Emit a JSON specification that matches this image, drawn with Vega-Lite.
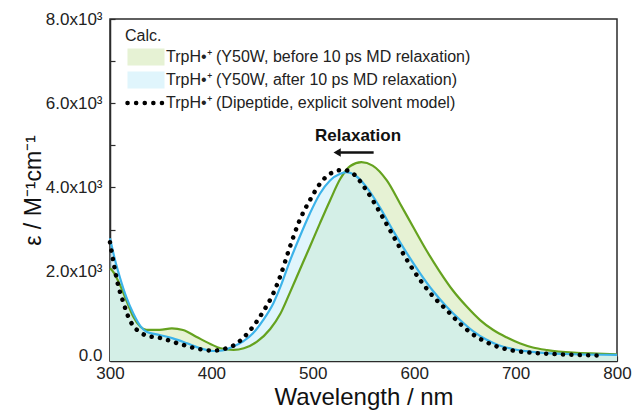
{
  "$schema": "https://vega.github.io/schema/vega-lite/v6.json",
  "width": 507,
  "height": 342,
  "autosize": {"type": "none"},
  "padding": {"left": 110, "top": 19, "right": 16, "bottom": 50},
  "background": "white",
  "config": {
    "font": "Liberation Sans",
    "view": {"stroke": "#2b2b2b", "strokeWidth": 1.5},
    "axis": {"grid": false, "domainColor": "#2b2b2b", "domainWidth": 1.5, "tickColor": "#2b2b2b", "tickWidth": 1.2, "labelColor": "#222222", "titleColor": "#111111", "labelFont": "Liberation Sans", "titleFont": "Liberation Sans", "titleFontWeight": "normal"}
  },
  "datasets": {
    "curves": [
      {"series": "before", "wl": 300, "eps": 2080},
      {"series": "before", "wl": 302, "eps": 2035},
      {"series": "before", "wl": 310, "eps": 1680},
      {"series": "before", "wl": 316, "eps": 1325},
      {"series": "before", "wl": 323, "eps": 930},
      {"series": "before", "wl": 330, "eps": 693},
      {"series": "before", "wl": 336, "eps": 620},
      {"series": "before", "wl": 349, "eps": 620},
      {"series": "before", "wl": 361, "eps": 655},
      {"series": "before", "wl": 372, "eps": 615},
      {"series": "before", "wl": 385, "eps": 457},
      {"series": "before", "wl": 399, "eps": 284},
      {"series": "before", "wl": 409, "eps": 182},
      {"series": "before", "wl": 422, "eps": 142},
      {"series": "before", "wl": 432, "eps": 182},
      {"series": "before", "wl": 445, "eps": 339},
      {"series": "before", "wl": 458, "eps": 640},
      {"series": "before", "wl": 468, "eps": 1000},
      {"series": "before", "wl": 477, "eps": 1480},
      {"series": "before", "wl": 487, "eps": 2035},
      {"series": "before", "wl": 497, "eps": 2587},
      {"series": "before", "wl": 507, "eps": 3148},
      {"series": "before", "wl": 517, "eps": 3692},
      {"series": "before", "wl": 527, "eps": 4200},
      {"series": "before", "wl": 537, "eps": 4510},
      {"series": "before", "wl": 548, "eps": 4600},
      {"series": "before", "wl": 559, "eps": 4520},
      {"series": "before", "wl": 573, "eps": 4166},
      {"series": "before", "wl": 586, "eps": 3621},
      {"series": "before", "wl": 599, "eps": 3060},
      {"series": "before", "wl": 612, "eps": 2509},
      {"series": "before", "wl": 625, "eps": 2010},
      {"series": "before", "wl": 638, "eps": 1560},
      {"series": "before", "wl": 652, "eps": 1167},
      {"series": "before", "wl": 665, "eps": 852},
      {"series": "before", "wl": 678, "eps": 615},
      {"series": "before", "wl": 691, "eps": 442},
      {"series": "before", "wl": 704, "eps": 300},
      {"series": "before", "wl": 717, "eps": 200},
      {"series": "before", "wl": 731, "eps": 140},
      {"series": "before", "wl": 757, "eps": 78},
      {"series": "before", "wl": 780, "eps": 55},
      {"series": "before", "wl": 800, "eps": 40},
      {"series": "after", "wl": 300, "eps": 2793},
      {"series": "after", "wl": 305, "eps": 2272},
      {"series": "after", "wl": 310, "eps": 1846},
      {"series": "after", "wl": 316, "eps": 1404},
      {"series": "after", "wl": 323, "eps": 1010},
      {"series": "after", "wl": 330, "eps": 710},
      {"series": "after", "wl": 336, "eps": 575},
      {"series": "after", "wl": 349, "eps": 497},
      {"series": "after", "wl": 362, "eps": 418},
      {"series": "after", "wl": 376, "eps": 300},
      {"series": "after", "wl": 389, "eps": 182},
      {"series": "after", "wl": 402, "eps": 118},
      {"series": "after", "wl": 411, "eps": 130},
      {"series": "after", "wl": 421, "eps": 220},
      {"series": "after", "wl": 431, "eps": 339},
      {"series": "after", "wl": 441, "eps": 537},
      {"series": "after", "wl": 451, "eps": 852},
      {"series": "after", "wl": 461, "eps": 1247},
      {"series": "after", "wl": 468, "eps": 1640},
      {"series": "after", "wl": 477, "eps": 2230},
      {"series": "after", "wl": 487, "eps": 2824},
      {"series": "after", "wl": 497, "eps": 3377},
      {"series": "after", "wl": 507, "eps": 3851},
      {"series": "after", "wl": 517, "eps": 4166},
      {"series": "after", "wl": 527, "eps": 4324},
      {"series": "after", "wl": 533, "eps": 4363},
      {"series": "after", "wl": 542, "eps": 4284},
      {"series": "after", "wl": 553, "eps": 4008},
      {"series": "after", "wl": 566, "eps": 3534},
      {"series": "after", "wl": 579, "eps": 2982},
      {"series": "after", "wl": 593, "eps": 2430},
      {"series": "after", "wl": 606, "eps": 1957},
      {"series": "after", "wl": 619, "eps": 1530},
      {"series": "after", "wl": 632, "eps": 1170},
      {"series": "after", "wl": 645, "eps": 860},
      {"series": "after", "wl": 658, "eps": 590},
      {"series": "after", "wl": 671, "eps": 390},
      {"series": "after", "wl": 684, "eps": 250},
      {"series": "after", "wl": 697, "eps": 165},
      {"series": "after", "wl": 710, "eps": 115},
      {"series": "after", "wl": 724, "eps": 80},
      {"series": "after", "wl": 757, "eps": 40},
      {"series": "after", "wl": 800, "eps": 25},
      {"series": "dip", "wl": 300, "eps": 2700},
      {"series": "dip", "wl": 304, "eps": 2150},
      {"series": "dip", "wl": 308, "eps": 1680},
      {"series": "dip", "wl": 313, "eps": 1285},
      {"series": "dip", "wl": 318, "eps": 930},
      {"series": "dip", "wl": 323, "eps": 710},
      {"series": "dip", "wl": 330, "eps": 560},
      {"series": "dip", "wl": 336, "eps": 480},
      {"series": "dip", "wl": 349, "eps": 430},
      {"series": "dip", "wl": 369, "eps": 284},
      {"series": "dip", "wl": 389, "eps": 158},
      {"series": "dip", "wl": 402, "eps": 126},
      {"series": "dip", "wl": 411, "eps": 158},
      {"series": "dip", "wl": 421, "eps": 237},
      {"series": "dip", "wl": 431, "eps": 418},
      {"series": "dip", "wl": 441, "eps": 694},
      {"series": "dip", "wl": 451, "eps": 1050},
      {"series": "dip", "wl": 461, "eps": 1483},
      {"series": "dip", "wl": 468, "eps": 1900},
      {"series": "dip", "wl": 477, "eps": 2560},
      {"series": "dip", "wl": 487, "eps": 3219},
      {"series": "dip", "wl": 497, "eps": 3692},
      {"series": "dip", "wl": 507, "eps": 4087},
      {"series": "dip", "wl": 517, "eps": 4324},
      {"series": "dip", "wl": 530, "eps": 4418},
      {"series": "dip", "wl": 540, "eps": 4324},
      {"series": "dip", "wl": 553, "eps": 3929},
      {"series": "dip", "wl": 566, "eps": 3416},
      {"series": "dip", "wl": 579, "eps": 2864},
      {"series": "dip", "wl": 593, "eps": 2272},
      {"series": "dip", "wl": 606, "eps": 1799},
      {"series": "dip", "wl": 619, "eps": 1404},
      {"series": "dip", "wl": 632, "eps": 1090},
      {"series": "dip", "wl": 645, "eps": 770},
      {"series": "dip", "wl": 658, "eps": 510},
      {"series": "dip", "wl": 671, "eps": 330},
      {"series": "dip", "wl": 684, "eps": 205},
      {"series": "dip", "wl": 697, "eps": 130},
      {"series": "dip", "wl": 711, "eps": 87},
      {"series": "dip", "wl": 743, "eps": 40},
      {"series": "dip", "wl": 780, "eps": 10}
    ],
    "note": [{"wl": 544.6, "eps": 5231, "text": "Relaxation"}],
    "arrow": [{"wl": 527, "wl2": 560, "eps": 4830, "head": 524}]
  },
  "layer": [
    {
      "data": {"name": "curves"},
      "transform": [{"filter": "datum.series === 'before'"}],
      "mark": {"type": "area", "interpolate": "monotone"},
      "encoding": {
        "x": {"field": "wl", "type": "quantitative", "scale": {"domain": [300, 800], "nice": false},
          "axis": {"values": [300, 350, 400, 450, 500, 550, 600, 650, 700, 750, 800], "labelExpr": "datum.value % 100 === 0 ? datum.label : ''", "tickSize": -5, "labelFontSize": 17, "labelPadding": 9, "labelFlush": false, "title": "Wavelength / nm", "titleFontSize": 24, "titlePadding": 4}},
        "y": {"field": "eps", "type": "quantitative", "stack": null, "scale": {"domain": [-120, 8000], "nice": false, "zero": false},
          "axis": {"values": [0, 1000, 2000, 3000, 4000, 5000, 6000, 7000, 8000], "labelExpr": "datum.value === 0 ? '0.0' : (datum.value % 2000 === 0 ? format(datum.value / 1000, '.1f') + 'x10³' : '')", "tickSize": -5, "labelFontSize": 17, "labelPadding": 13, "labelFlush": false, "title": "ε / M⁻¹cm⁻¹", "titleFontSize": 23, "titlePadding": 0}},
        "y2": {"datum": -120},
        "color": {"field": "series", "type": "nominal",
          "scale": {"domain": ["before", "after", "dip"], "range": ["#e6f2d4", "rgba(193,235,249,0.5)", "#000000"]},
          "legend": {
            "title": "Calc.", "orient": "none", "legendX": 15, "legendY": 9,
            "titleFontSize": 16, "titleFontWeight": "normal", "titleFont": "Liberation Sans", "titleColor": "#222222", "titlePadding": 5,
            "labelFontSize": 16, "labelFont": "Liberation Sans", "labelColor": "#222222", "labelOffset": 12, "labelLimit": 500,
            "symbolType": "M-1,-0.46H1V0.46H-1Z", "symbolSize": 1369, "symbolStrokeWidth": 0, "symbolOffset": 13, "rowPadding": 5,
            "labelExpr": "datum.value === 'before' ? 'TrpH•⁺ (Y50W, before 10 ps MD relaxation)' : datum.value === 'after' ? 'TrpH•⁺ (Y50W, after 10 ps MD relaxation)' : 'TrpH•⁺ (Dipeptide, explicit solvent model)'",
            "encode": {"symbols": {"update": {
              "shape": {"signal": "datum.value === 'dip' ? 'M-1,0H1' : 'M-1,-0.46H1V0.46H-1Z'"},
              "fill": {"signal": "datum.value === 'dip' ? 'transparent' : scale('color', datum.value)"},
              "stroke": {"signal": "datum.value === 'dip' ? '#000000' : 'transparent'"},
              "strokeWidth": {"signal": "datum.value === 'dip' ? 4.5 : 0"},
              "strokeDash": {"signal": "datum.value === 'dip' ? [0.1, 8.5] : [1, 0]"},
              "strokeCap": {"value": "round"},
              "opacity": {"value": 1}
            }}}
          }
        }
      }
    },
    {
      "data": {"name": "curves"},
      "transform": [{"filter": "datum.series === 'after'"}],
      "mark": {"type": "area", "interpolate": "monotone"},
      "encoding": {
        "x": {"field": "wl", "type": "quantitative"},
        "y": {"field": "eps", "type": "quantitative", "stack": null},
        "y2": {"datum": -120},
        "color": {"field": "series", "type": "nominal"}
      }
    },
    {
      "data": {"name": "curves"},
      "transform": [{"filter": "datum.series === 'before'"}],
      "mark": {"type": "line", "interpolate": "monotone", "color": "#65a21f", "strokeWidth": 2.2},
      "encoding": {
        "x": {"field": "wl", "type": "quantitative"},
        "y": {"field": "eps", "type": "quantitative"}
      }
    },
    {
      "data": {"name": "curves"},
      "transform": [{"filter": "datum.series === 'after'"}],
      "mark": {"type": "line", "interpolate": "monotone", "color": "#3cb3ea", "strokeWidth": 2.2},
      "encoding": {
        "x": {"field": "wl", "type": "quantitative"},
        "y": {"field": "eps", "type": "quantitative"}
      }
    },
    {
      "data": {"name": "curves"},
      "transform": [{"filter": "datum.series === 'dip'"}],
      "mark": {"type": "line", "interpolate": "monotone", "strokeWidth": 4.5, "strokeDash": [0.1, 8.3], "strokeCap": "round"},
      "encoding": {
        "x": {"field": "wl", "type": "quantitative"},
        "y": {"field": "eps", "type": "quantitative"},
        "color": {"field": "series", "type": "nominal"}
      }
    },
    {
      "data": {"name": "note"},
      "mark": {"type": "text", "fontSize": 17, "fontWeight": "bold", "font": "Liberation Sans", "color": "#111111"},
      "encoding": {
        "x": {"field": "wl", "type": "quantitative"},
        "y": {"field": "eps", "type": "quantitative"},
        "text": {"field": "text"}
      }
    },
    {
      "data": {"name": "arrow"},
      "mark": {"type": "rule", "strokeWidth": 2.5, "color": "#111111"},
      "encoding": {
        "x": {"field": "wl", "type": "quantitative"},
        "x2": {"field": "wl2"},
        "y": {"field": "eps", "type": "quantitative"}
      }
    },
    {
      "data": {"name": "arrow"},
      "mark": {"type": "point", "shape": "triangle-left", "filled": true, "size": 70, "color": "#111111", "opacity": 1},
      "encoding": {
        "x": {"field": "head", "type": "quantitative"},
        "y": {"field": "eps", "type": "quantitative"}
      }
    }
  ]
}
